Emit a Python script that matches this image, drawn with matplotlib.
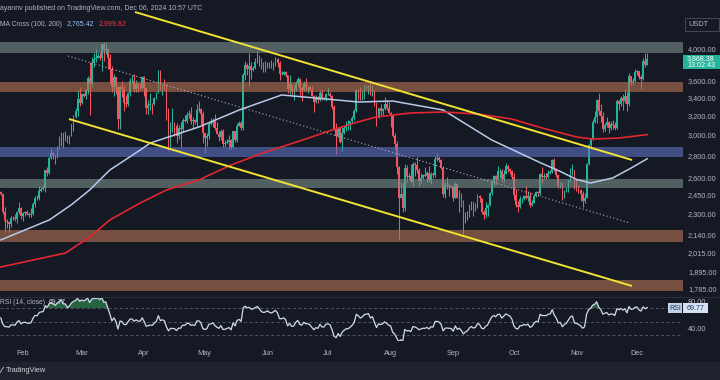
import numpy as np
import pandas as pd
import matplotlib
matplotlib.use("Agg")
import matplotlib.pyplot as plt
import matplotlib.dates as mdates
from matplotlib.patches import Rectangle
from matplotlib.ticker import NullLocator, FixedLocator

# ---------------- data (ETH/USDT daily) ----------------
start_date = "2024-01-21"
end_date = "2024-12-06"

# closes before the first visible candle (Dec 31 .. Jan 20), used for open/RSI warm-up
warmup_closes = [2282, 2352, 2355, 2210, 2268, 2268, 2240, 2222, 2330, 2345, 2585,
                 2617, 2525, 2576, 2472, 2511, 2587, 2529, 2468, 2490, 2470]

closes = [
    # Jan 21-31
    2455, 2310, 2240, 2235, 2220, 2265, 2268, 2255, 2315, 2345, 2280,
    # Feb
    2305, 2310, 2295, 2290, 2300, 2375, 2425, 2420, 2485, 2500, 2505, 2660, 2640, 2775, 2820,
    2800, 2785, 2880, 2945, 3015, 2965, 2970, 2920, 2990, 3110, 3185, 3245, 3385, 3340,
    # Mar
    3435, 3420, 3490, 3630, 3555, 3820, 3870, 3885, 3905, 3880, 4065, 3980, 4005, 3880, 3740,
    3525, 3645, 3520, 3160, 3515, 3495, 3335, 3330, 3455, 3590, 3590, 3495, 3560, 3510, 3505, 3645,
    # Apr
    3505, 3280, 3310, 3330, 3320, 3395, 3455, 3695, 3505, 3545, 3505, 3235, 3005, 3095, 3095,
    3085, 2985, 3065, 3055, 3155, 3145, 3200, 3220, 3140, 3155, 3130, 3255, 3265, 3215, 3015,
    # May
    2970, 2990, 3105, 3115, 3140, 3065, 3010, 2975, 3035, 2910, 2915, 2930, 2950, 2880, 3035,
    2945, 3090, 3120, 3070, 3665, 3790, 3740, 3780, 3725, 3750, 3825, 3895, 3840, 3765, 3745, 3760,
    # Jun
    3815, 3780, 3765, 3810, 3865, 3810, 3680, 3680, 3705, 3665, 3500, 3560, 3470, 3480, 3565,
    3620, 3510, 3485, 3560, 3515, 3520, 3490, 3420, 3350, 3390, 3370, 3450, 3380, 3380, 3435,
    # Jul
    3440, 3420, 3295, 3060, 2985, 3065, 2930, 3020, 3065, 3100, 3100, 3135, 3175, 3245, 3485,
    3445, 3390, 3425, 3505, 3515, 3535, 3440, 3480, 3335, 3175, 3275, 3250, 3270, 3320, 3280, 3230,
    # Aug
    3205, 2990, 2905, 2690, 2420, 2460, 2340, 2685, 2600, 2610, 2555, 2720, 2705, 2660, 2570,
    2595, 2615, 2610, 2635, 2575, 2630, 2620, 2765, 2770, 2750, 2685, 2460, 2530, 2530, 2525, 2515,
    # Sep
    2425, 2540, 2425, 2450, 2370, 2230, 2270, 2295, 2360, 2390, 2340, 2360, 2440, 2420, 2315,
    2290, 2340, 2370, 2465, 2560, 2610, 2580, 2650, 2655, 2580, 2630, 2695, 2675, 2655, 2600,
    # Oct
    2445, 2365, 2350, 2415, 2415, 2440, 2420, 2440, 2370, 2385, 2440, 2475, 2465, 2630, 2605,
    2610, 2605, 2640, 2645, 2750, 2670, 2620, 2525, 2535, 2440, 2480, 2505, 2570, 2640, 2660, 2520,
    # Nov
    2510, 2490, 2460, 2400, 2425, 2720, 2895, 2960, 3130, 3185, 3370, 3245, 3190, 3060, 3100,
    3130, 3070, 3105, 3100, 3070, 3355, 3330, 3395, 3360, 3415, 3325, 3655, 3580, 3590, 3705,
    # Dec
    3710, 3640, 3615, 3840, 3790, 3868.38,
]

highs = [
    2480, 2460, 2350, 2260, 2245, 2280, 2280, 2300, 2320, 2390, 2355,
    2310, 2320, 2325, 2310, 2340, 2390, 2440, 2450, 2520, 2515, 2535, 2665, 2690, 2780, 2865,
    2835, 2800, 2890, 2985, 3030, 3015, 3035, 2995, 3000, 3110, 3200, 3285, 3485, 3525,
    3450, 3450, 3500, 3650, 3825, 3900, 3945, 3995, 3940, 3960, 4085, 4095, 4080, 4010, 3930,
    3780, 3680, 3615, 3525, 3530, 3595, 3540, 3425, 3460, 3630, 3670, 3680, 3610, 3580, 3565, 3655,
    3650, 3510, 3365, 3445, 3335, 3400, 3460, 3730, 3725, 3560, 3615, 3555, 3280, 3125, 3275,
    3125, 3120, 3095, 3130, 3175, 3200, 3240, 3255, 3290, 3185, 3165, 3330, 3355, 3285, 3250,
    3020, 3015, 3130, 3170, 3170, 3220, 3130, 3040, 3055, 3055, 2945, 2955, 2995, 2955, 3040,
    3040, 3120, 3145, 3135, 3690, 3840, 3810, 3950, 3825, 3780, 3880, 3975, 3925, 3885, 3825, 3845,
    3835, 3830, 3850, 3830, 3890, 3880, 3840, 3715, 3720, 3710, 3670, 3660, 3560, 3540, 3590,
    3645, 3625, 3520, 3590, 3625, 3530, 3530, 3535, 3425, 3430, 3410, 3480, 3495, 3405, 3445,
    3525, 3465, 3430, 3310, 3115, 3075, 3075, 3075, 3100, 3145, 3155, 3145, 3190, 3270, 3500,
    3495, 3515, 3490, 3540, 3540, 3545, 3565, 3540, 3490, 3340, 3285, 3330, 3275, 3400, 3365, 3350,
    3240, 3215, 3015, 2935, 2700, 2560, 2550, 2715, 2710, 2640, 2720, 2740, 2735, 2780, 2680,
    2635, 2630, 2690, 2650, 2695, 2645, 2645, 2795, 2820, 2790, 2765, 2700, 2560, 2600, 2540, 2530,
    2520, 2560, 2550, 2490, 2465, 2410, 2310, 2320, 2375, 2400, 2390, 2385, 2460, 2445, 2425,
    2330, 2390, 2375, 2475, 2565, 2620, 2620, 2700, 2675, 2670, 2660, 2730, 2705, 2685, 2660,
    2640, 2495, 2400, 2440, 2425, 2450, 2520, 2480, 2470, 2410, 2460, 2480, 2485, 2640, 2690,
    2640, 2640, 2665, 2660, 2760, 2770, 2680, 2625, 2555, 2560, 2490, 2510, 2580, 2680, 2720, 2665,
    2580, 2535, 2495, 2485, 2465, 2725, 2905, 2970, 3160, 3250, 3380, 3445, 3325, 3240, 3120,
    3180, 3140, 3140, 3150, 3125, 3385, 3375, 3420, 3440, 3500, 3460, 3685, 3655, 3630, 3740,
    3730, 3705, 3665, 3885, 3940, 3940,
]

lows = [
    2450, 2300, 2165, 2190, 2165, 2200, 2250, 2240, 2230, 2300, 2260,
    2240, 2280, 2290, 2270, 2270, 2290, 2350, 2405, 2410, 2475, 2490, 2470, 2610, 2630, 2765,
    2760, 2720, 2770, 2860, 2885, 2870, 2935, 2915, 2910, 2985, 3040, 3170, 3195, 3300,
    3325, 3400, 3380, 3440, 3200, 3520, 3770, 3830, 3880, 3850, 3720, 3840, 3935, 3740, 3570,
    3465, 3420, 3440, 3060, 3060, 3400, 3250, 3290, 3300, 3420, 3550, 3460, 3465, 3460, 3490, 3500,
    3420, 3210, 3220, 3255, 3215, 3310, 3380, 3445, 3490, 3425, 3490, 3155, 2850, 2880, 3025,
    2990, 2915, 2960, 2870, 3030, 3130, 3120, 3175, 3110, 3065, 3105, 3075, 3240, 3110, 2915,
    2815, 2890, 2955, 3095, 3075, 3050, 3005, 2940, 2950, 2880, 2880, 2905, 2860, 2860, 2865,
    2925, 2930, 3085, 3050, 3050, 3610, 3665, 3530, 3620, 3715, 3740, 3810, 3775, 3740, 3700, 3705,
    3750, 3755, 3755, 3730, 3780, 3760, 3600, 3670, 3665, 3640, 3450, 3440, 3430, 3365, 3470,
    3545, 3425, 3360, 3475, 3475, 3445, 3485, 3410, 3240, 3340, 3335, 3360, 3375, 3370, 3355,
    3425, 3405, 3270, 3050, 2810, 2975, 2915, 2840, 3005, 3035, 3045, 3050, 3120, 3155, 3235,
    3365, 3375, 3375, 3380, 3495, 3440, 3430, 3415, 3300, 3090, 3170, 3200, 3200, 3260, 3255, 3225,
    3080, 2975, 2860, 2630, 2110, 2420, 2310, 2320, 2560, 2580, 2550, 2520, 2610, 2640, 2520,
    2550, 2585, 2600, 2560, 2560, 2540, 2590, 2600, 2745, 2740, 2670, 2430, 2420, 2500, 2440, 2505,
    2400, 2420, 2420, 2310, 2350, 2150, 2230, 2250, 2270, 2325, 2280, 2320, 2345, 2395, 2300,
    2260, 2270, 2280, 2360, 2445, 2535, 2540, 2575, 2590, 2555, 2555, 2625, 2645, 2630, 2580,
    2410, 2350, 2310, 2340, 2385, 2405, 2415, 2400, 2355, 2360, 2380, 2430, 2440, 2450, 2550,
    2580, 2580, 2595, 2630, 2635, 2655, 2600, 2510, 2510, 2405, 2425, 2470, 2470, 2560, 2620, 2500,
    2480, 2465, 2400, 2355, 2385, 2420, 2710, 2880, 2950, 3120, 3120, 3200, 3125, 3030, 3040,
    3080, 3020, 3050, 3060, 3050, 3060, 3260, 3300, 3260, 3340, 3250, 3300, 3540, 3545, 3580,
    3670, 3620, 3500, 3600, 3760, 3785,
]

# moving averages
ma100_dates = ["2024-01-21", "2024-02-14", "2024-02-25", "2024-03-05", "2024-03-15", "2024-03-30",
               "2024-04-04", "2024-04-28", "2024-05-18", "2024-06-08", "2024-06-25", "2024-07-16",
               "2024-08-02", "2024-08-27", "2024-09-20", "2024-10-14", "2024-10-24", "2024-11-01",
               "2024-11-08", "2024-11-19", "2024-11-28", "2024-12-06"]
ma100_vals = [2105, 2251, 2370, 2490, 2663, 2848, 2916, 3077, 3258, 3427, 3392, 3347,
              3358, 3258, 2946, 2730, 2650, 2580, 2549, 2593, 2680, 2765.42]

ma200_dates = ["2024-01-21", "2024-02-22", "2024-03-05", "2024-03-15", "2024-03-30", "2024-04-12",
               "2024-04-28", "2024-05-14", "2024-05-31", "2024-06-17", "2024-07-03", "2024-07-16",
               "2024-07-25", "2024-08-11", "2024-08-27", "2024-09-13", "2024-09-30", "2024-10-15",
               "2024-11-01", "2024-11-09", "2024-11-22", "2024-12-06"]
ma200_vals = [1922, 2014, 2126, 2251, 2383, 2490, 2575, 2708, 2829, 2936, 3046, 3131,
              3183, 3226, 3236, 3215, 3161, 3067, 2976, 2955, 2965, 2999.82]

# zones (price ranges) and trend lines
zones = [(3950, 4095, "grey"), (3460, 3585, "brown"), (2783, 2878, "blue"),
         (2508, 2583, "grey"), (2093, 2179, "brown"), (1771, 1838, "brown")]
upper_line = [("2024-03-27 10:00", 4530), ("2024-11-28 12:00", 2754)]
lower_line = [("2024-02-23 19:00", 3161), ("2024-11-28 12:00", 1803)]
mid_line = [("2024-02-23 07:00", 3907), ("2024-11-27 12:00", 2228)]

price_ticks = [4000, 3600, 3400, 3200, 3000, 2800, 2600, 2450, 2300, 2140, 2015, 1895, 1785]
rsi_ticks = [80, 40]
month_labels = ["Feb", "Mar", "Apr", "May", "Jun", "Jul", "Aug", "Sep", "Oct", "Nov", "Dec"]
month_starts = ["2024-02-01", "2024-03-01", "2024-04-01", "2024-05-01", "2024-06-01", "2024-07-01",
                "2024-08-01", "2024-09-01", "2024-10-01", "2024-11-01", "2024-12-01"]

# ---------------- styling ----------------
BG = "#151924"
GREEN = "#26b39b"
RED = "#f7525f"
TXT = "#b2b5be"
ZONE_COL = {"grey": "#7a8f8b", "brown": "#b97454", "blue": "#5f72c4"}

plt.rcParams['font.family'] = ['Liberation Sans', 'DejaVu Sans']

W, H = 720, 380
fig = plt.figure(figsize=(7.2, 3.8), dpi=100, facecolor=BG)


def fx(x):
    return x / W


def fy(y):
    return 1 - y / H


ax = fig.add_axes([0, fy(296), 683 / W, 296 / H], facecolor=BG)
rx = fig.add_axes([0, fy(341), 683 / W, 44 / H], facecolor=BG, sharex=ax)

dates = pd.date_range(start_date, end_date, freq="D")
c = np.array(closes, dtype=float)
h = np.array(highs, dtype=float)
lo = np.array(lows, dtype=float)
assert len(dates) == len(c) == len(h) == len(lo)
xd = mdates.date2num(dates)
o = np.concatenate([[warmup_closes[-1]], c[:-1]])
up = c >= o
cols = np.where(up, GREEN, RED)

ax.vlines(xd, lo, h, colors=cols, lw=0.75, zorder=2)
body_h = np.maximum(np.abs(c - o), c * 0.0018)
ax.bar(xd, body_h, bottom=np.minimum(o, c), width=0.8, color=cols, lw=0, zorder=2.1)

for lo_p, hi_p, kind in zones:
    ax.axhspan(lo_p, hi_p, color=ZONE_COL[kind], alpha=0.6, lw=0, zorder=3)

ax.plot(mdates.date2num(pd.to_datetime(ma100_dates)), ma100_vals, color="#b6cbe8", lw=1.1, zorder=4)
ax.plot(mdates.date2num(pd.to_datetime(ma200_dates)), ma200_vals, color="#e3262f", lw=1.2, zorder=4)

for line, kw in ((upper_line, dict(color="#f2e232", lw=1.4)),
                 (lower_line, dict(color="#f2e232", lw=1.4)),
                 (mid_line, dict(color="#aeb2bd", lw=0.8, ls=(0, (1, 2.2))))):
    xs = mdates.date2num(pd.to_datetime([p[0] for p in line]))
    ys = [p[1] for p in line]
    ax.plot(xs, ys, zorder=5, solid_capstyle="butt", **kw)

# axes scales (pixel layout of the reference)
ax.set_yscale("log")
ax.set_ylim(4000 * np.exp(-(296 - 49) / 297.4), 4000 * np.exp(49 / 297.4))
base = mdates.date2num(pd.Timestamp("2024-02-01"))
ax.set_xlim(base - 23 / 2.02, base + (683 - 23) / 2.02)

ax.yaxis.tick_right()
ax.yaxis.set_major_locator(FixedLocator(price_ticks))
ax.yaxis.set_minor_locator(NullLocator())
ax.set_yticklabels([f"{v:,.2f}" for v in price_ticks])
ax.tick_params(axis="y", length=0, pad=3.6, labelsize=5.3, labelcolor=TXT)
ax.tick_params(axis="x", length=0, labelbottom=False)
for s in ax.spines.values():
    s.set_visible(False)

# RSI(14) computed from the closes
allc = np.array(warmup_closes + closes, dtype=float)
d = np.diff(allc)
g = np.clip(d, 0, None)
l = np.clip(-d, 0, None)
n = 14
ag = np.full_like(g, np.nan)
al = np.full_like(l, np.nan)
ag[n - 1] = g[:n].mean()
al[n - 1] = l[:n].mean()
for i in range(n, len(g)):
    ag[i] = (ag[i - 1] * (n - 1) + g[i]) / n
    al[i] = (al[i - 1] * (n - 1) + l[i]) / n
rsi_all = 100 - 100 / (1 + ag / al)
rsi = rsi_all[-len(c):]

for lvl in (70, 50, 30):
    rx.axhline(lvl, color="#5d606b", lw=0.6, ls=(0, (3.5, 3)), zorder=1)
rx.fill_between(xd, 70, rsi, where=rsi > 70, interpolate=True, color="#2f7d4a", alpha=0.75, lw=0, zorder=2)
rx.plot(xd, rsi, color="#d2dbec", lw=0.9, zorder=3)
rx.set_ylim(70 - 33 / 0.675, 70 + 11 / 0.675)
rx.yaxis.tick_right()
rx.yaxis.set_major_locator(FixedLocator(rsi_ticks))
rx.set_yticklabels([f"{v:.2f}" for v in rsi_ticks])
rx.tick_params(axis="y", length=0, pad=3.6, labelsize=5.3, labelcolor=TXT)
rx.xaxis.set_major_locator(FixedLocator(mdates.date2num(pd.to_datetime(month_starts))))
rx.set_xticklabels(month_labels)
rx.tick_params(axis="x", length=0, pad=6.2, labelsize=5.3, labelcolor=TXT)
for s in rx.spines.values():
    s.set_visible(False)

# pane separator
fig.add_artist(plt.Line2D([0, 1], [fy(296.5), fy(296.5)], color="#2a2e39", lw=0.8))

# header
fig.text(fx(0), fy(8), "ayannv published on TradingView.com, Dec 06, 2024 10:57 UTC",
         fontsize=5.05, color=TXT, va="center", ha="left")
fig.text(fx(0), fy(24), "MA Cross (100, 200)", fontsize=4.9, color=TXT, va="center", ha="left")
fig.text(fx(67), fy(24), "2,765.42", fontsize=5.0, color="#9cc3f5", va="center", ha="left")
fig.text(fx(99), fy(24), "2,999.82", fontsize=5.0, color="#f23645", va="center", ha="left")

# RSI header
fig.text(fx(0), fy(302), "RSI (14, close)", fontsize=4.9, color=TXT, va="center", ha="left")
fig.text(fx(49), fy(302), "69.77", fontsize=4.9, color="#d2dbec", va="center", ha="left")

# USDT box
fig.add_artist(Rectangle((fx(685), fy(31)), 34 / W, 13 / H, transform=fig.transFigure,
                         facecolor=BG, edgecolor="#434651", lw=0.8))
fig.text(fx(698), fy(24.5), "USDT", fontsize=5.3, color=TXT, va="center", ha="center")

# last price tag
fig.add_artist(Rectangle((fx(683), fy(69)), 37 / W, 14 / H, transform=fig.transFigure,
                         facecolor=GREEN, edgecolor="none"))
fig.text(fx(701), fy(59), "3,868.38", fontsize=5.1, color="white", va="center", ha="center")
fig.text(fx(701), fy(65.5), "13:02:43", fontsize=5.1, color="white", va="center", ha="center")

# RSI tag
fig.add_artist(Rectangle((fx(668), fy(313)), 14 / W, 10 / H, transform=fig.transFigure,
                         facecolor="#c3d0e8", edgecolor="none"))
fig.add_artist(Rectangle((fx(683), fy(313)), 25 / W, 10 / H, transform=fig.transFigure,
                         facecolor="#d6e0f2", edgecolor="none"))
fig.text(fx(675), fy(308), "RSI", fontsize=5.1, color="#1e3a6e", va="center", ha="center")
fig.text(fx(695.5), fy(308), "69.77", fontsize=5.1, color="#1e3a6e", va="center", ha="center")

# bottom bar
fig.add_artist(Rectangle((0, 0), 1, 18 / H, transform=fig.transFigure, facecolor="#1e222d", edgecolor="none"))
fig.text(fx(1), fy(370.5), "\u2215", fontsize=6.5, color="#d1d4dc", va="center", ha="left", fontweight="bold")
fig.text(fx(6), fy(370.5), "TradingView", fontsize=5.3, color="#d1d4dc", va="center", ha="left")

fig.savefig("out.png", dpi=100, facecolor=BG)
